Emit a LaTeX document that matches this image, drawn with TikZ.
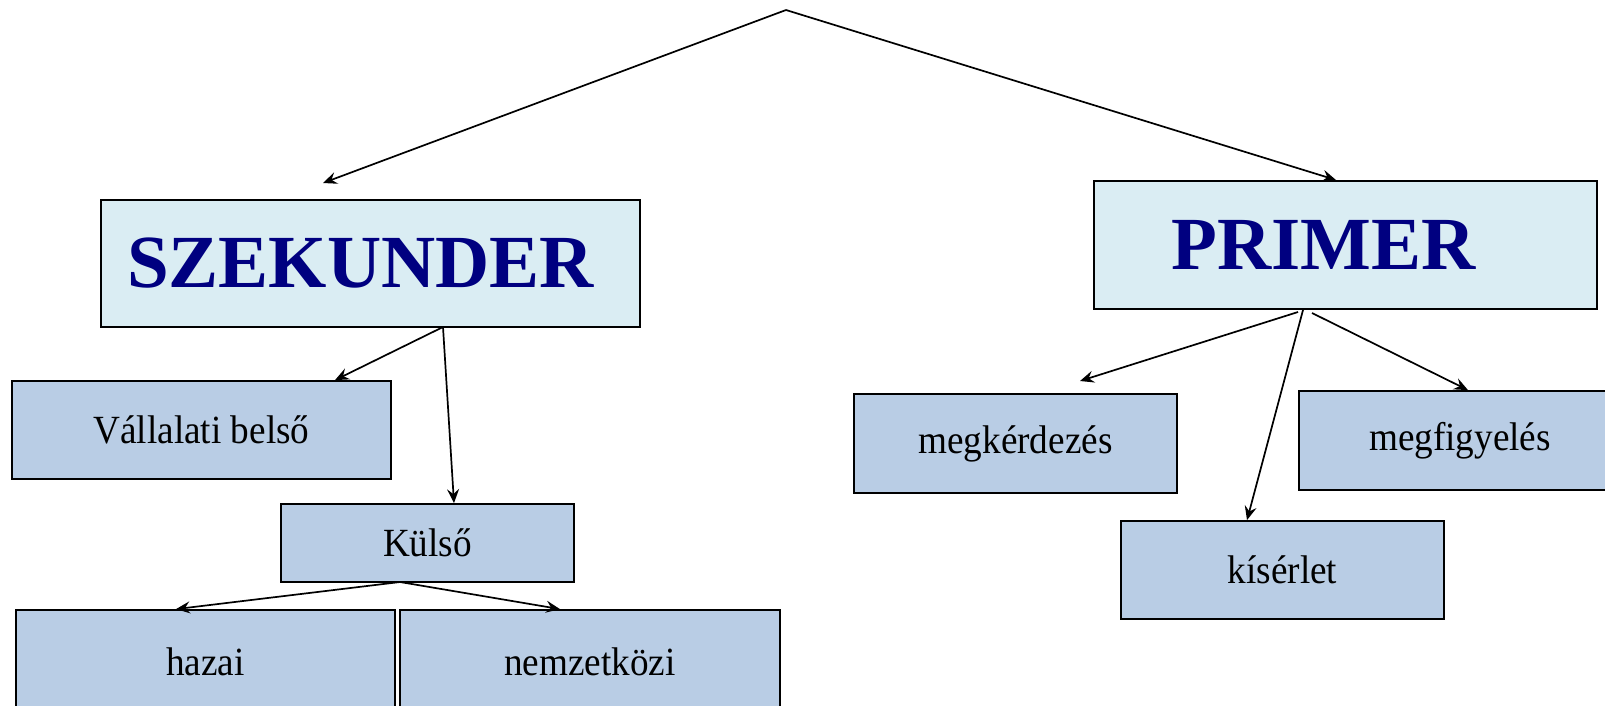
\documentclass[tikz,border=0pt]{standalone}
\usepackage{fontspec}
\setmainfont{Liberation Serif}[FakeStretch=0.93]
\newfontfamily\headfont{Liberation Serif}
\usetikzlibrary{arrows.meta}
\definecolor{headfill}{HTML}{DAEDF3}
\definecolor{leaffill}{HTML}{B9CDE5}
\definecolor{navytext}{HTML}{000080}
\tikzset{
  base/.style={draw=black, line width=1.8pt, inner sep=0pt, align=center},
  head/.style={base, fill=headfill, text=navytext, font=\headfont\fontsize{75}{80}\selectfont\bfseries},
  leaf/.style={base, fill=leaffill, font=\fontsize{40}{48}\selectfont},
  conn/.style={line width=1.7pt, -{Stealth[length=14pt, width=12pt, inset=5pt]}},
}
\begin{document}
\begin{tikzpicture}[x=1pt, y=-1pt]
\useasboundingbox[fill=white] (0,0) rectangle (1605,705);
% boxes
\node[head, minimum width=539pt, minimum height=127pt] (sz) at (370.5,263.5) {\hspace*{-20pt}\raisebox{-1pt}{SZEKUNDER}};
\node[head, minimum width=503pt, minimum height=128pt] (pr) at (1345.5,245) {\hspace*{-44pt}\raisebox{-10pt}{PRIMER}};
\node[leaf, minimum width=379pt, minimum height=98pt] (va) at (201.5,430) {Vállalati belső};
\node[leaf, minimum width=293pt, minimum height=78pt] (ku) at (427.5,543) {Külső};
\node[leaf, minimum width=379pt, minimum height=104pt] (ha) at (205.5,662) {hazai};
\node[leaf, minimum width=380pt, minimum height=104pt] (ne) at (590,662) {nemzetközi};
\node[leaf, minimum width=323pt, minimum height=99pt] (mk) at (1015.5,443.5) {megkérdezés};
\node[leaf, minimum width=322pt, minimum height=99pt] (mf) at (1460,440.5) {megfigyelés};
\node[leaf, minimum width=323pt, minimum height=98pt] (ks) at (1282.5,570) {kísérlet};
% connector points
\coordinate (apex) at (786,10);
\coordinate (szin) at (323,183);
\coordinate (prin) at (1336,180);
\coordinate (szout) at (443,327);
\coordinate (kuout) at (400,582);
\coordinate (prout1) at (1298,312);
\coordinate (prout2) at (1303,310);
\coordinate (prout3) at (1312,313);
\coordinate (mkin) at (1080,381);
% connectors
\draw[conn] (apex) -- (szin);
\draw[conn] (apex) -- (prin);
\draw[conn] (szout) -- (va.north -| 335,0);
\draw[conn] (szout) -- (ku.north -| 454,0);
\draw[conn] (kuout) -- (ha.north -| 176,0);
\draw[conn] (kuout) -- (ne.north -| 560,0);
\draw[conn] (prout1) -- (mkin);
\draw[conn] (prout2) -- (ks.north -| 1247,0);
\draw[conn] (prout3) -- (mf.north -| 1468,0);
\end{tikzpicture}
\end{document}
